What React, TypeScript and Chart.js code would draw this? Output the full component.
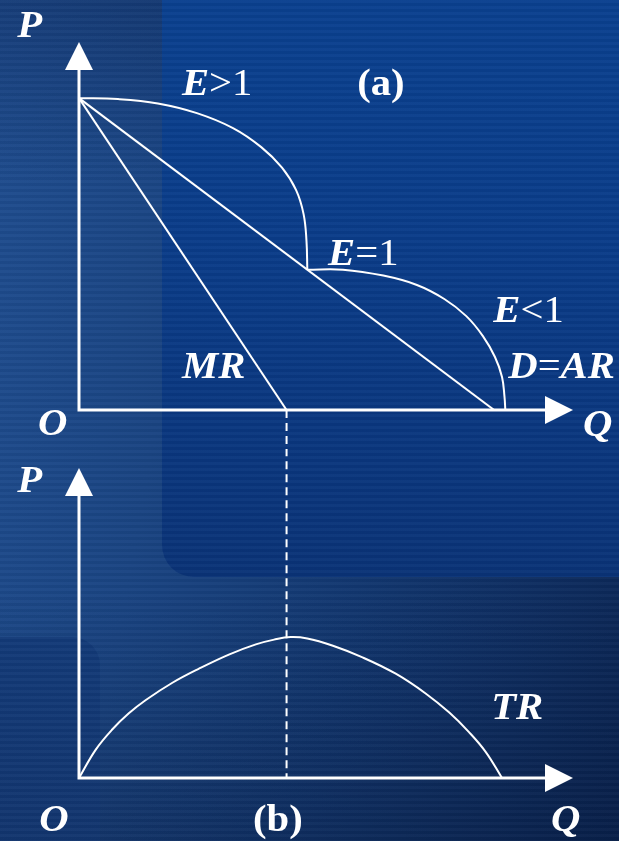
import React, { useEffect, useRef } from "react";
import { Chart, registerables } from "chart.js";

Chart.register(...registerables);

// ---------- data ----------
const Q_MAX = 11.9; // arrow tip of Q axis
const P_MAX = 11.8; // arrow tip of P axis (panel a)
const TR_MAX = 55; // arrow tip of P axis (panel b)

const demandQ = [0, 10];
const demandP = [10, 0];
const mrQ = [0, 5];
const mrP = [10, 0];

const elasticQ = [0, 0.94, 1.9, 2.84, 3.71, 4.39, 4.89, 5.23, 5.41, 5.48, 5.5];
const elasticP = [10, 9.97, 9.83, 9.52, 9.04, 8.43, 7.77, 7.05, 6.28, 5.42, 4.5];

const inelasticQ = [5.5, 6.36, 7.33, 8.14, 8.8, 9.33, 9.73, 10.02, 10.19, 10.25, 10.27];
const inelasticP = [4.5, 4.5, 4.31, 4.01, 3.56, 3.01, 2.37, 1.7, 1.06, 0.42, 0];

const trQ = [0, 0.4, 0.8, 1.2, 1.61, 2.25, 2.89, 3.61, 4.26, 4.7, 5.1, 5.5, 6.1, 6.83, 7.63, 8.35, 8.92, 9.4, 9.8, 10.19];
const trValues = [0, 5.0, 8.6, 11.47, 13.84, 16.9, 19.4, 21.9, 23.7, 24.55, 25.0, 24.75, 23.5, 21.4, 18.5, 15.0, 11.6, 8.1, 4.6, 0];

const peakQ = 5;

type Run = { t: string; s: "bi" | "b" | "r" };
type Label = { q: number; v: number; runs: Run[] };

const topLabels: Label[] = [
  { q: -1.49, v: 11.96, runs: [{ t: "P", s: "bi" }] },
  { q: 2.48, v: 10.1, runs: [{ t: "E", s: "bi" }, { t: ">1", s: "r" }] },
  { q: 6.7, v: 10.1, runs: [{ t: "(a)", s: "b" }] },
  { q: 6.0, v: 4.65, runs: [{ t: "E", s: "bi" }, { t: "=1", s: "r" }] },
  { q: 9.98, v: 2.82, runs: [{ t: "E", s: "bi" }, { t: "<1", s: "r" }] },
  { q: 10.34, v: 1.03, runs: [{ t: "D", s: "bi" }, { t: "=", s: "r" }, { t: "AR", s: "bi" }] },
  { q: 2.48, v: 1.03, runs: [{ t: "MR", s: "bi" }] },
  { q: -0.99, v: -0.8, runs: [{ t: "O", s: "bi" }] },
  { q: 12.14, v: -0.83, runs: [{ t: "Q", s: "bi" }] },
];

const bottomLabels: Label[] = [
  { q: -1.49, v: 50.7, runs: [{ t: "P", s: "bi" }] },
  { q: 9.93, v: 10.46, runs: [{ t: "TR", s: "bi" }] },
  { q: -0.96, v: -9.4, runs: [{ t: "O", s: "bi" }] },
  { q: 4.19, v: -9.4, runs: [{ t: "(b)", s: "b" }] },
  { q: 11.37, v: -9.4, runs: [{ t: "Q", s: "bi" }] },
];

// ---------- helpers ----------
const zip = (xs: number[], ys: number[]) => xs.map((x, i) => ({ x, y: ys[i] }));

const FONT_FAMILY = '"Liberation Serif", "Times New Roman", serif';
const FONT_SIZE = 37;
const H_SCALE = 1.1;
const ARROW_LEN = 28;
const ARROW_HALF = 14;

const fontFor = (s: Run["s"]) =>
  s === "bi"
    ? `italic bold ${FONT_SIZE}px ${FONT_FAMILY}`
    : s === "b"
    ? `bold ${FONT_SIZE}px ${FONT_FAMILY}`
    : `${FONT_SIZE}px ${FONT_FAMILY}`;

const makeAxesPlugin = (labels: Label[]) => ({
  id: "econAxes",
  afterDatasetsDraw(chart: any) {
    const { ctx } = chart;
    const x = chart.scales.x;
    const y = chart.scales.y;
    const ox = x.getPixelForValue(0);
    const oy = y.getPixelForValue(0);
    const tx = x.getPixelForValue(x.max);
    const ty = y.getPixelForValue(y.max);
    ctx.save();
    ctx.strokeStyle = "#ffffff";
    ctx.fillStyle = "#ffffff";
    ctx.lineWidth = 3;
    ctx.lineJoin = "miter";
    ctx.lineCap = "butt";
    ctx.beginPath();
    ctx.moveTo(ox, ty + ARROW_LEN - 1);
    ctx.lineTo(ox, oy);
    ctx.lineTo(tx - ARROW_LEN + 1, oy);
    ctx.stroke();
    // P arrow
    ctx.beginPath();
    ctx.moveTo(ox, ty);
    ctx.lineTo(ox - ARROW_HALF, ty + ARROW_LEN);
    ctx.lineTo(ox + ARROW_HALF, ty + ARROW_LEN);
    ctx.closePath();
    ctx.fill();
    // Q arrow
    ctx.beginPath();
    ctx.moveTo(tx, oy);
    ctx.lineTo(tx - ARROW_LEN, oy - ARROW_HALF);
    ctx.lineTo(tx - ARROW_LEN, oy + ARROW_HALF);
    ctx.closePath();
    ctx.fill();

    // labels
    ctx.textBaseline = "alphabetic";
    ctx.textAlign = "left";
    for (const lab of labels) {
      const px = x.getPixelForValue(lab.q);
      const py = y.getPixelForValue(lab.v);
      ctx.save();
      ctx.translate(px, py);
      ctx.scale(H_SCALE, 1);
      let cx = 0;
      for (const r of lab.runs) {
        ctx.font = fontFor(r.s);
        ctx.fillText(r.t, cx, 0);
        cx += ctx.measureText(r.t).width;
      }
      ctx.restore();
    }
    ctx.restore();
  },
});

const lineDs = (data: { x: number; y: number }[], extra: any = {}) => ({
  data,
  showLine: true,
  borderColor: "#ffffff",
  borderWidth: 2,
  pointRadius: 0,
  fill: false,
  tension: 0,
  ...extra,
});

const arc = { tension: 0.4 };

const baseOptions = (yMax: number, padding: any) => ({
  responsive: false,
  maintainAspectRatio: false,
  animation: false as const,
  devicePixelRatio: 1,
  events: [] as any[],
  layout: { padding },
  plugins: { legend: { display: false }, tooltip: { enabled: false }, title: { display: false } },
  scales: {
    x: { type: "linear" as const, min: 0, max: Q_MAX, display: false },
    y: { type: "linear" as const, min: 0, max: yMax, display: false },
  },
});

export default function App() {
  const topRef = useRef<HTMLCanvasElement | null>(null);
  const botRef = useRef<HTMLCanvasElement | null>(null);

  useEffect(() => {
    document.body.style.margin = "0";
    const charts: Chart[] = [];
    if (topRef.current) {
      charts.push(
        new Chart(topRef.current, {
          type: "scatter",
          data: {
            datasets: [
              lineDs(zip(demandQ, demandP)),
              lineDs(zip(mrQ, mrP)),
              lineDs(zip(elasticQ, elasticP), arc),
              lineDs(zip(inelasticQ, inelasticP), arc),
              lineDs(
                [
                  { x: peakQ, y: 0 },
                  { x: peakQ, y: -1.5 },
                ],
                { borderDash: [8, 5], clip: false }
              ),
            ],
          } as any,
          options: baseOptions(P_MAX, { left: 79, right: 46, top: 42, bottom: 40 }) as any,
          plugins: [makeAxesPlugin(topLabels)],
        })
      );
    }
    if (botRef.current) {
      charts.push(
        new Chart(botRef.current, {
          type: "scatter",
          data: {
            datasets: [
              lineDs(zip(trQ, trValues), arc),
              lineDs(
                [
                  { x: peakQ, y: 58.5 },
                  { x: peakQ, y: 0 },
                ],
                { borderDash: [8, 5], clip: false }
              ),
            ],
          } as any,
          options: baseOptions(TR_MAX, { left: 79, right: 46, top: 18, bottom: 63 }) as any,
          plugins: [makeAxesPlugin(bottomLabels)],
        })
      );
    }
    return () => charts.forEach((c) => c.destroy());
  }, []);

  const abs: React.CSSProperties = { position: "absolute" };

  return (
    <div
      style={{
        position: "relative",
        width: 619,
        height: 841,
        overflow: "hidden",
        background:
          "linear-gradient(100deg, #1f4d8f 0%, #1a4482 30%, #123770 60%, #0b2655 100%)",
      }}
    >
      <div
        style={{
          ...abs,
          left: 0,
          top: 0,
          width: 619,
          height: 841,
          background:
            "linear-gradient(180deg, rgba(5,25,70,0.3) 0%, rgba(5,25,70,0) 22%, rgba(0,0,0,0) 70%, rgba(0,10,35,0.25) 100%)",
        }}
      />
      <div
        style={{
          ...abs,
          left: 162,
          top: -40,
          width: 520,
          height: 617,
          borderRadius: 32,
          background: "linear-gradient(180deg, #0a4190 0%, #0a3c89 45%, #0a3377 100%)",
        }}
      />
      <div
        style={{
          ...abs,
          left: -40,
          top: 637,
          width: 140,
          height: 260,
          borderRadius: 28,
          background: "linear-gradient(180deg, #133a78 0%, #12346c 100%)",
        }}
      />
      <div
        style={{
          ...abs,
          left: 0,
          top: 0,
          width: 619,
          height: 841,
          background:
            "repeating-linear-gradient(180deg, rgba(255,255,255,0.025) 0px, rgba(255,255,255,0.025) 3px, rgba(0,0,0,0.035) 3px, rgba(0,0,0,0.035) 6px)",
        }}
      />
      <canvas ref={topRef} width={619} height={450} style={{ ...abs, left: 0, top: 0, width: 619, height: 450 }} />
      <canvas ref={botRef} width={619} height={391} style={{ ...abs, left: 0, top: 450, width: 619, height: 391 }} />
    </div>
  );
}
